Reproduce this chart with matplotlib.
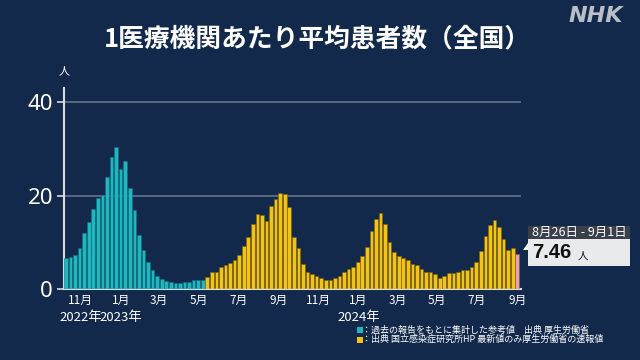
import matplotlib
matplotlib.use("Agg")
import matplotlib.pyplot as plt
from matplotlib.patches import Rectangle, Polygon
import pandas as pd

plt.rcParams['font.family'] = ['Noto Sans CJK JP', 'DejaVu Sans']

# ---- data ----
last_week_end = "2024-09-01"
ref_values = [6.6, 7.0, 7.4, 8.9, 12.0, 14.4, 17.2, 19.5, 20.2, 23.9,
              28.3, 30.5, 25.7, 27.4, 21.6, 16.9, 11.5, 8.4, 5.8, 4.1,
              2.8, 2.2, 1.8, 1.5, 1.35, 1.35, 1.5, 1.6, 1.9, 1.9, 1.9]
niid_values = [2.7, 3.6, 3.6, 4.7, 5.2, 5.7, 6.3, 7.3, 9.25, 11.2,
               14.0, 16.0, 15.9, 14.6, 17.9, 19.2, 20.6, 20.4, 17.65, 11.1,
               8.9, 5.3, 3.8, 3.3, 2.9, 2.5, 2.05, 2.05, 2.4, 2.85,
               3.6, 4.3, 4.7, 5.9, 7.1, 9.0, 12.4, 15.0, 16.2, 13.9,
               10.2, 8.0, 7.1, 6.6, 6.26, 5.3, 5.1, 4.4, 3.8, 3.8,
               3.3, 2.35, 2.85, 3.4, 3.4, 3.6, 4.1, 4.2, 4.7, 5.9,
               8.2, 11.4, 13.7, 14.7, 13.4, 10.7, 8.5, 8.9]
latest_value = [7.46]
latest_label = "8月26日 - 9月1日"
month_ticks = ["2022-11-01", "2023-01-01", "2023-03-01", "2023-05-01", "2023-07-01",
               "2023-09-01", "2023-11-01", "2024-01-01", "2024-03-01", "2024-05-01",
               "2024-07-01", "2024-09-01"]
month_labels = ["11月", "1月", "3月", "5月", "7月", "9月", "11月", "1月", "3月", "5月", "7月", "9月"]
year_ticks = ["2022-11-01", "2023-01-01", "2024-01-01"]
year_labels = ["2022年", "2023年", "2024年"]
y_ticks = [0, 20, 40]
legend_labels = ["：過去の報告をもとに集計した参考値　出典 厚生労働省",
                 "：出典 国立感染症研究所HP 最新値のみ厚生労働省の速報値"]

# ---- style ----
BG = "#13294b"
TEAL = "#1fb6c1"
YELLOW = "#f3c414"
PINK = "#e6a2a4"

n = len(ref_values) + len(niid_values) + len(latest_value)
dates = pd.date_range(end=last_week_end, periods=n, freq="7D")
values = ref_values + niid_values + latest_value
colors = [TEAL] * len(ref_values) + [YELLOW] * len(niid_values) + [PINK] * len(latest_value)
edges = ["#0e6f78"] * len(ref_values) + ["#7a6008"] * len(niid_values) + ["#8a5a5c"] * len(latest_value)

fig = plt.figure(figsize=(6.4, 3.6), dpi=100, facecolor=BG)
ax = fig.add_axes([64 / 640, (360 - 289.3) / 360, 456.5 / 640, (289.3 - 88) / 360])
ax.set_facecolor(BG)

ax.bar(dates, values, width=5.6, color=colors, edgecolor=edges, linewidth=0.4, zorder=3)

ax.set_ylim(0, 43)
ax.set_xlim(pd.Timestamp("2022-10-06"), pd.Timestamp("2024-09-06"))

ax.set_yticks(y_ticks)
ax.set_yticklabels([str(v) for v in y_ticks], fontsize=16, color="white", family=["Noto Sans", "DejaVu Sans"])
ax.tick_params(axis="y", length=5, width=1.2, color="#d8dde4", pad=3)
for v in y_ticks[1:]:
    ax.axhline(v, color="#6e7b8f", lw=1.1, zorder=1)

xt = pd.to_datetime(month_ticks)
ax.set_xticks(xt)
ax.set_xticklabels(month_labels, fontsize=8.5, color="white")
ax.tick_params(axis="x", length=0, pad=3)

trans = ax.get_xaxis_transform()
for d, lab in zip(pd.to_datetime(year_ticks), year_labels):
    ax.text(d, -0.14, lab, transform=trans, ha="center", va="center", fontsize=9.5, color="white")

for s in ["top", "right"]:
    ax.spines[s].set_visible(False)
for s in ["left", "bottom"]:
    ax.spines[s].set_color("#d8dde4")
    ax.spines[s].set_linewidth(1.5)

# unit label
fig.text(64 / 640, 1 - 71 / 360, "人", ha="center", va="center", fontsize=8, color="white")

# title
fig.text(0.496, 1 - 39 / 360, "1医療機関あたり平均患者数（全国）", ha="center", va="center",
         fontsize=18.5, fontweight="bold", color="white")

# NHK logo
fig.text(596 / 640, 1 - 16 / 360, "NHK", ha="center", va="center", fontsize=16,
         fontweight="bold", fontstyle="italic", color="#b9bec7", family=["DejaVu Sans"])

# annotation box
W, H = 640.0, 360.0
def fx(px): return px / W
def fy(py): return 1 - py / H

fig.patches.append(Rectangle((fx(528), fy(239)), fx(630) - fx(528), fy(226) - fy(239),
                             transform=fig.transFigure, facecolor="#3a4048", edgecolor="none"))
fig.patches.append(Rectangle((fx(528), fy(266)), fx(630) - fx(528), fy(239) - fy(266),
                             transform=fig.transFigure, facecolor="#e9eaec", edgecolor="none"))
fig.patches.append(Polygon([(fx(528), fy(243)), (fx(528), fy(250)), (fx(523), fy(250))],
                           closed=True, transform=fig.transFigure, facecolor="white", edgecolor="none"))
fig.text(fx(579), fy(232.5), latest_label, ha="center", va="center", fontsize=9, color="white")
fig.text(fx(532), fy(253), f"{latest_value[0]:.2f}", ha="left", va="center", fontsize=14.5,
         fontweight="bold", color="#111111", family=["Liberation Sans", "DejaVu Sans"])
fig.text(fx(578), fy(256), "人", ha="left", va="center", fontsize=7.5, color="#111111")

# legend
for i, (lab, col) in enumerate(zip(legend_labels, [TEAL, YELLOW])):
    yc = 330 + i * 9.5
    fig.patches.append(Rectangle((fx(356.5), fy(yc + 3)), fx(6), 6 / H,
                                 transform=fig.transFigure, facecolor=col, edgecolor="none"))
    fig.text(fx(361.5), fy(yc), lab, ha="left", va="center", fontsize=6.5, color="white")

fig.savefig("out.png", dpi=100, facecolor=BG)
